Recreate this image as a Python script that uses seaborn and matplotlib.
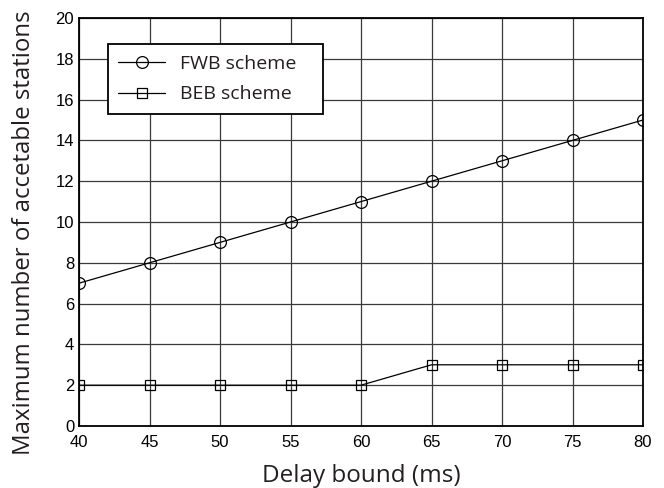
import matplotlib
matplotlib.use("Agg")
import matplotlib.pyplot as plt
import seaborn as sns
import pandas as pd

delay_bound = [40, 45, 50, 55, 60, 65, 70, 75, 80]
fwb_stations = [7, 8, 9, 10, 11, 12, 13, 14, 15]
beb_stations = [2, 2, 2, 2, 2, 3, 3, 3, 3]
x_ticks = [40, 45, 50, 55, 60, 65, 70, 75, 80]
y_ticks = [0, 2, 4, 6, 8, 10, 12, 14, 16, 18, 20]

sns.set_theme(style="white")
plt.rcParams["font.family"] = ["Liberation Sans", "DejaVu Sans"]

df = pd.DataFrame({"delay": delay_bound, "FWB scheme": fwb_stations, "BEB scheme": beb_stations})

fig = plt.figure(figsize=(6.64, 4.88), dpi=100)
ax = fig.add_axes([79 / 664, 62 / 488, 564 / 664, 408 / 488])

sns.lineplot(data=df, x="delay", y="FWB scheme", ax=ax, color="black", lw=0.9,
             marker="o", markersize=8.5, markerfacecolor="none",
             markeredgecolor="black", markeredgewidth=0.9, label="FWB scheme")
sns.lineplot(data=df, x="delay", y="BEB scheme", ax=ax, color="black", lw=0.9,
             marker="s", markersize=7, markerfacecolor="none",
             markeredgecolor="black", markeredgewidth=0.9, label="BEB scheme")

ax.set_xlim(40, 80)
ax.set_ylim(0, 20)
ax.set_xticks(x_ticks)
ax.set_yticks(y_ticks)
ax.grid(True, color="#3a3a3a", lw=0.9)
ax.set_axisbelow(True)
for s in ax.spines.values():
    s.set_color("black")
    s.set_linewidth(1.3)
ax.tick_params(direction="in", length=4, width=1, colors="black", labelsize=12)
ax.tick_params(axis="x", pad=6.5)
ax.tick_params(axis="y", pad=3.5)

label_color = "#231f20"
ax.set_xlabel("Delay bound (ms)", fontsize=17.5, family=["Open Sans", "DejaVu Sans"],
              labelpad=10, color=label_color)
ax.set_ylabel("Maximum number of accetable stations", fontsize=17.3,
              family=["Open Sans", "DejaVu Sans"], color=label_color)
ax.yaxis.set_label_coords(-0.076, 0.473)

leg = ax.legend(loc="upper left", bbox_to_anchor=(0.051, 0.5, 0.381, 0.436), mode="expand",
                borderaxespad=0, frameon=True, fancybox=False, edgecolor="black", framealpha=1,
                prop={"family": ["Open Sans", "DejaVu Sans"], "size": 14},
                handlelength=2.4, handletextpad=0.75, borderpad=0.55, labelspacing=0.65)
leg.get_frame().set_linewidth(1.3)
for t in leg.get_texts():
    t.set_color(label_color)

fig.savefig("out.png", dpi=100)
